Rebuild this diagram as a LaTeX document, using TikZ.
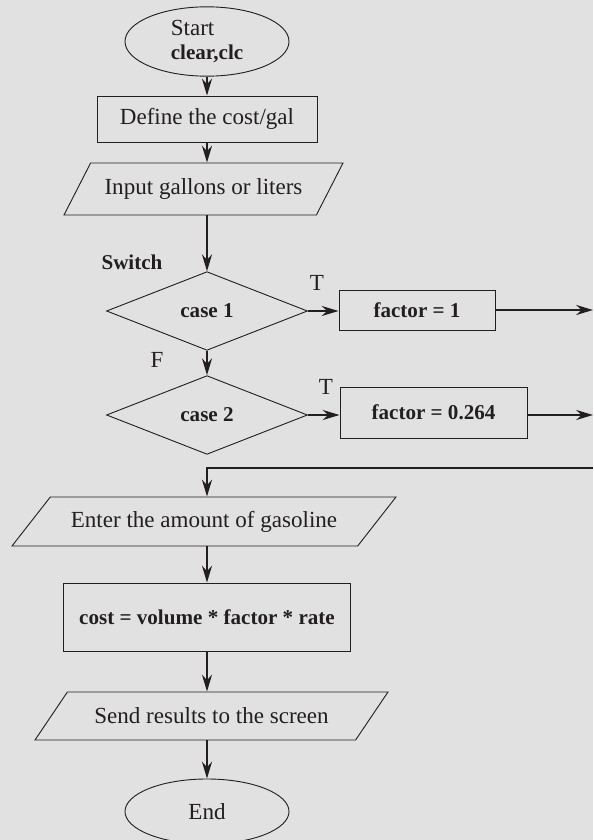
\documentclass[tikz,border=0pt]{standalone}
\usepackage{fontspec}
\setmainfont{Liberation Serif}
\usetikzlibrary{arrows.meta, shapes.geometric}
\definecolor{bggray}{HTML}{E1E1E1}
\definecolor{inkdark}{HTML}{231F20}

\tikzset{
  base/.style={draw=inkdark, line width=0.65pt, text=inkdark, inner sep=2pt,
    font=\fontsize{16.4}{17.7}\selectfont},
  term/.style={base, ellipse, minimum width=4.1cm, minimum height=1.625cm},
  proc/.style={base, rectangle},
  io/.style={base, trapezium, trapezium stretches body},
  decision/.style={base, diamond, minimum width=5.025cm, minimum height=1.925cm},
  bld/.style={font=\fontsize{15}{18}\selectfont\bfseries},
  lbl/.style={text=inkdark, inner sep=1pt, font=\fontsize{16.4}{19}\selectfont},
  arr/.style={draw=inkdark, line width=1.6pt, -{Stealth[length=4.2mm, width=2.5mm]}}
}

\begin{document}
\begin{tikzpicture}

% Background
\fill[bggray] (0,0) rectangle (14.825,21);
\useasboundingbox (0,0) rectangle (14.825,21);

% Start and set-up
\node[term, align=left] (start) at (5.175,19.9625)
  {Start\\{\fontsize{15}{17.7}\selectfont\bfseries clear,clc}};
\node[proc, minimum width=5.5cm, minimum height=1.15cm] (define) at (5.175,18.025)
  {Define the cost/gal};
\node[io, trapezium left angle=45, trapezium right angle=135,
      minimum width=6.975cm, minimum height=1.3cm] (input) at (5.0875,16.275)
  {Input gallons or liters};

% Switch block
\node[lbl, bld] (switch) at (3.3,14.45) {Switch};
\node[decision, bld] (case1) at (5.175,13.225) {case 1};
\node[decision, bld] (case2) at (5.175,10.625) {case 2};
\node[proc, bld, minimum width=3.9cm, minimum height=1.0cm] (fac1) at (10.425,13.25)
  {factor = 1};
\node[proc, bld, minimum width=4.675cm, minimum height=1.275cm] (fac2) at (10.8375,10.6875)
  {factor = 0.264};

% Branch labels
\node[lbl] (t1) at (7.925,13.925) {T};
\node[lbl] (t2) at (8.15,11.325) {T};
\node[lbl] (f1) at (3.925,12.0) {F};

% Loose ends at the right margin
\coordinate (out1) at (14.825,13.25);
\coordinate (out2) at (14.825,10.625);
\coordinate (back) at (14.825,9.3);

% Computation and output
\node[io, trapezium left angle=35, trapezium right angle=145,
      minimum width=9.6cm, minimum height=1.225cm] (enter) at (5.1,7.9625)
  {Enter the amount of gasoline};
\node[proc, bld, minimum width=7.175cm, minimum height=1.7cm] (cost) at (5.175,5.575)
  {cost = volume * factor * rate};
\node[io, trapezium left angle=34, trapezium right angle=146,
      minimum width=8.825cm, minimum height=1.2cm] (send) at (5.2875,3.1)
  {Send results to the screen};
\node[term] (stop) at (5.175,0.7125) {End};

% Flow
\draw[arr] (start.south) -- (define.north);
\draw[arr] (define.south) -- (define.south |- input.north);
\draw[arr] (define.south |- input.south) -- (case1.north);
\draw[arr] (case1.south) -- (case2.north);
\draw[arr] (case1.east) -- (case1.east -| fac1.west);
\draw[arr] (case2.east) -- (case2.east -| fac2.west);
\draw[arr] (fac1.east) -- (out1);
\draw[arr] (out2 -| fac2.east) -- (out2);
\draw[arr] (back) -- (case2.south |- back) -- (case2.south |- enter.north);
\draw[arr] (case2.south |- enter.south) -- (cost.north);
\draw[arr] (cost.south) -- (cost.south |- send.north);
\draw[arr] (cost.south |- send.south) -- (stop.north);

\end{tikzpicture}
\end{document}
